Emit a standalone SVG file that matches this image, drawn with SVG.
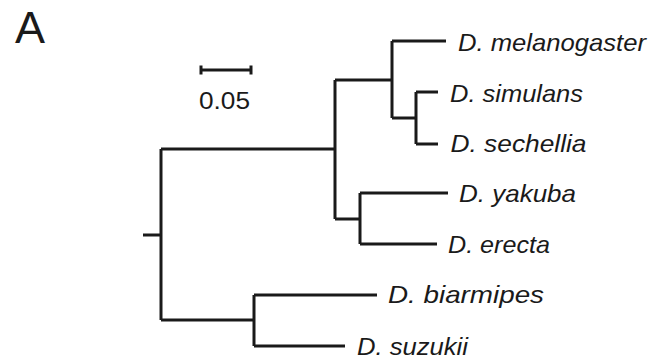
<svg xmlns="http://www.w3.org/2000/svg" width="652" height="364" viewBox="0 0 652 364">
  <style>
    .branch { fill: none; stroke: #1a1a1a; stroke-width: 3; stroke-linecap: butt; stroke-linejoin: miter; }
    .taxon { font-family: "Liberation Sans", Arial, sans-serif; font-style: italic; font-size: 24px; fill: #1a1a1a; }
    .plain { font-family: "Liberation Sans", Arial, sans-serif; fill: #1a1a1a; }
  </style>
  <rect width="652" height="364" fill="#ffffff"/>

  <!-- panel letter -->
  <text class="plain" x="15" y="42.5" font-size="45">A</text>

  <!-- scale bar -->
  <g id="scale-bar">
    <path class="branch" d="M201 70 H251 M201 65.5 V74.5 M251 65.5 V74.5"/>
    <text class="plain" x="199" y="109" font-size="24" textLength="51" lengthAdjust="spacingAndGlyphs">0.05</text>
  </g>

  <!-- tree branches -->
  <g id="connectors">
    <!-- root stub and root split -->
    <path class="branch" d="M143 235 H161"/>
    <path class="branch" d="M161 149 V320"/>
    <!-- melanogaster subgroup -->
    <path class="branch" d="M161 149 H335 M335 80 V219"/>
    <path class="branch" d="M335 80 H392 M392 41 V118"/>
    <path class="branch" d="M392 41 H446"/>
    <path class="branch" d="M392 118 H416 M416 92 V144"/>
    <path class="branch" d="M416 92 H438 M416 144 H438"/>
    <path class="branch" d="M335 219 H360 M360 193 V244"/>
    <path class="branch" d="M360 193 H448 M360 244 H437"/>
    <!-- suzukii subgroup -->
    <path class="branch" d="M161 320 H254 M254 295 V346"/>
    <path class="branch" d="M254 295 H377 M254 346 H345"/>
  </g>

  <!-- leaves -->
  <g id="melanogaster"><text class="taxon" x="458" y="51" textLength="188" lengthAdjust="spacingAndGlyphs">D. melanogaster</text></g>
  <g id="simulans"><text class="taxon" x="450" y="101.5" textLength="133" lengthAdjust="spacingAndGlyphs">D. simulans</text></g>
  <g id="sechellia"><text class="taxon" x="450.5" y="152" textLength="136" lengthAdjust="spacingAndGlyphs">D. sechellia</text></g>
  <g id="yakuba"><text class="taxon" x="459" y="202" textLength="117" lengthAdjust="spacingAndGlyphs">D. yakuba</text></g>
  <g id="erecta"><text class="taxon" x="448" y="253" textLength="102" lengthAdjust="spacingAndGlyphs">D. erecta</text></g>
  <g id="biarmipes"><text class="taxon" x="388" y="303" textLength="156" lengthAdjust="spacingAndGlyphs">D. biarmipes</text></g>
  <g id="suzukii"><text class="taxon" x="357" y="354.5" textLength="111" lengthAdjust="spacingAndGlyphs">D. suzukii</text></g>
</svg>
